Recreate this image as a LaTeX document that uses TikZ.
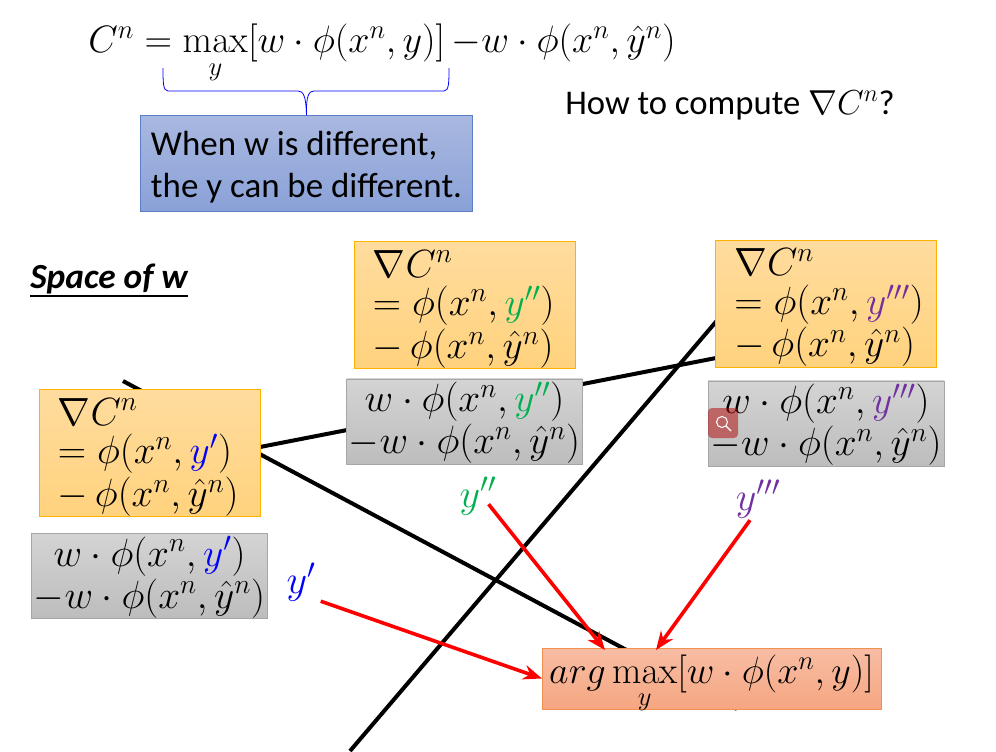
\documentclass[tikz,border=0pt]{standalone}
\usepackage{fix-cm}
\usepackage{amsmath}
\usepackage{amssymb}
\usepackage[no-math]{fontspec}
\setmainfont{Carlito}
\usetikzlibrary{calc,arrows.meta,positioning}
\newcommand{\feat}[1]{\phi(x^n,#1)}
\newcommand{\yhatn}{\hat{y}^n}
\newcommand{\bigtxt}{\fontsize{29.5}{32}\selectfont}
\newcommand{\gradtxt}[1]{\hspace*{7pt}\rule{0pt}{26.5pt}$\nabla C^n$\\[-3pt]\hspace*{7pt}$=\feat{#1}$\\\hspace*{7pt}$-\,\feat{\yhatn}$}
\newcommand{\scoretxt}[1]{\rule{0pt}{24pt}$w\cdot\feat{#1}$\\$-w\cdot\feat{\yhatn}$}
\definecolor{ygreen}{HTML}{00B050}
\definecolor{ypurple}{HTML}{7030A0}
\tikzset{
  gradbox/.style={draw=orange!60!yellow,top color=gradtop,bottom color=gradbot,
    minimum width=165.5pt,minimum height=95pt,inner xsep=7pt,inner ysep=0pt,text width=151.5pt,align=left,font=\bigtxt},
  scorebox/.style={draw=black!35,top color=black!17,bottom color=black!26,
    minimum width=177pt,minimum height=64pt,inner sep=0pt,align=center,font=\fontsize{29.5}{31.5}\selectfont},
  ylabel/.style={inner sep=0pt,font=\fontsize{30}{32}\selectfont},
  wall/.style={line width=3pt,black},
  pick/.style={->,>={Stealth[length=14pt,width=11pt]},line width=2.7pt,red}
}
\definecolor{gradtop}{HTML}{FFDC9E}
\definecolor{gradbot}{HTML}{FFD27D}
\definecolor{notetop}{HTML}{A9B8E0}
\definecolor{notebot}{HTML}{8AA1D8}
\definecolor{noteline}{HTML}{5B7FC7}
\definecolor{argtop}{HTML}{F7BDA4}
\definecolor{argbot}{HTML}{F6A681}
\definecolor{argline}{HTML}{F4904F}
\begin{document}
\begin{tikzpicture}[x=0.75pt,y=-0.75pt]
    \useasboundingbox(0,0)rectangle(996,751);
    % walls of the space of w
    \draw[wall](123,381)--(737,709);
    \draw[wall](260,447)--(716,358);
    \draw[wall](720,317)--(350,751);
    % top line
    \node[inner sep=0pt,font=\fontsize{28.6}{32}\selectfont] (cost) at (382,54) {$C^n=\max\limits_{y}[w\cdot\feat{y}]\,{-}w\cdot\feat{\yhatn}$};
    \node[inner sep=0pt,anchor=west,font=\fontsize{26}{30}\selectfont] (question) at (565,105) {How to compute $\nabla C^n$?};
    \node[draw=noteline,top color=notetop,bottom color=notebot,minimum width=249pt,minimum height=72pt,inner sep=0pt,align=left,font=\fontsize{26.2}{31.5}\selectfont] (note) at (306.5,163.5) {\rule{0pt}{24pt}When w is different,\\the y can be different.};
    \draw[blue,semithick](163,68)..controls(163,82)and(163,91)..(168,91)--(298,91)..controls(303,91)and(306,95)..(note.north);
    \draw[blue,semithick](449,68)..controls(449,82)and(449,91)..(444,91)--(314,91)..controls(309,91)and(306,95)..(note.north);
    \node[inner sep=0pt,anchor=west,font=\fontsize{26.5}{30}\selectfont\bfseries\itshape] (space) at (30,279) {Space of w};
    \draw[thick](space.west|-0,296)--(space.east|-0,296);
    % gradient and score boxes
    \node[gradbox] (grada) at (149.5,453) {\gradtxt{\textcolor{blue}{y'}}};
    \node[scorebox] (scorea) at (149.5,576) {\scoretxt{\textcolor{blue}{y'}}};
    \node[gradbox] (gradb) at (464.5,305) {\gradtxt{\textcolor{ygreen}{y''}}};
    \node[scorebox] (scoreb) at (464.5,421.5) {\scoretxt{\textcolor{ygreen}{y''}}};
    \node[gradbox] (gradc) at (826,303.5) {\gradtxt{\textcolor{ypurple}{y'''}}};
    \node[scorebox] (scorec) at (826,423.5) {\scoretxt{\textcolor{ypurple}{y'''}}};
    % the three answers
    \node[ylabel,text=blue] (ya) at (301,582) {$y'$};
    \node[ylabel,text=ygreen] (yb) at (478,496) {$y''$};
    \node[ylabel,text=ypurple] (yc) at (758,499) {$y'''$};
    \node[draw=argline,top color=argtop,bottom color=argbot,minimum width=254pt,inner sep=0pt,text height=26.15pt,text depth=19.35pt,font=\fontsize{28.5}{32}\selectfont] (argbox) at (711.5,678.5) {$arg\max\limits_{y}[w\cdot\feat{y}]$};
    \coordinate (tipb) at (605,650);
    \coordinate (tipc) at (656,650);
    \draw[pick]($(ya.south east)+(5,0)$)--(argbox.west);
    \draw[pick]($(yb.south east)+(-8,-11)$)--(tipb);
    \draw[pick]($(yc.south)+(-8,2)$)--(tipc);
    % viewer button
    \fill[red!70!black,opacity=0.5,rounded corners=3pt](708,408)rectangle(738,438);
    \draw[white,thick](722,422)circle(5.5);
    \draw[white,thick](726,426)--(731,431);
\end{tikzpicture}
\end{document}
